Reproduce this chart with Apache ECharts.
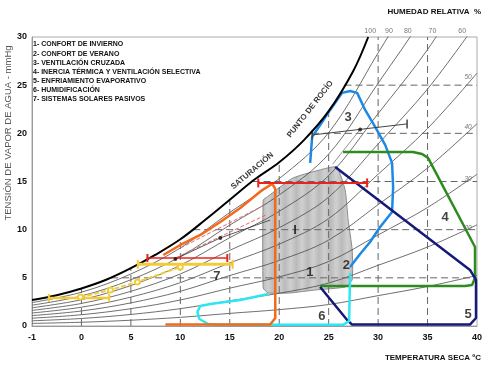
<!DOCTYPE html>
<html><head><meta charset="utf-8">
<script src="https://cdn.jsdelivr.net/npm/echarts@6/dist/echarts.min.js"></script>
<style>html,body{margin:0;padding:0;background:#fff}#c{width:487px;height:367px}</style>
</head><body><div id="c"></div>
<script>
// ---- axis ticks ----
const xTickLabels = ["-1","0","5","10","15","20","25","30","35","40"];
const yTickValues = [0,5,10,15,20,25,30];

// ---- saturation curve (T °C, vapour pressure mmHg) ----
const saturation = [[-5,2.7],[-2.5,3.2],[0,3.9],[2.5,4.8],[5,6.0],[7.5,7.4],[10,9.0],[12.5,11.0],[15,13.1],[17.5,15.2],[20,17.0],[22.5,19.3],[25,22.3],[27.5,26.5],[29,30]];

// ---- relative humidity curves ----
const rhTemps = [-5,0,5,10,15,20,25,30,35,40];
const rh10 = [0.27,0.39,0.60,0.90,1.31,1.70,2.23,3.15,4.10,5.25];
const rh20 = [0.54,0.78,1.20,1.80,2.62,3.40,4.46,6.30,8.20,10.5];
const rh30 = [0.81,1.17,1.80,2.70,3.93,5.10,6.69,9.45,12.3,15.75];
const rh40 = [1.08,1.56,2.40,3.60,5.24,6.80,8.92,12.6,16.4,21.0];
const rh50 = [1.35,1.95,3.00,4.50,6.55,8.50,11.15,15.75,20.5,26.25];
const rh60 = [1.62,2.34,3.60,5.40,7.86,10.2,13.38,18.9,24.6,31.5];
const rh70 = [1.89,2.73,4.20,6.30,9.17,11.9,15.61,22.05,28.7,36.75];
const rh80 = [2.16,3.12,4.80,7.20,10.48,13.6,17.84,25.2,32.8,42.0];
const rh90 = [2.43,3.51,5.40,8.10,11.79,15.3,20.07,28.35,36.9,47.25];
const rhTopLabels = [[29.2,30,"100"],[31.1,30,"90"],[33.0,30,"80"],[35.5,30,"70"],[38.5,30,"60"]];
const rhSideLabels = [[39.1,25.8,"50"],[39.1,20.6,"40"],[39.1,15.2,"30"],[39.1,10.2,"20"]];

// ---- dashed reference lines ----
const dashV = [[0,3.9],[5,6.0],[10,9.0],[15,13.1],[20,17.0],[25,22.3],[30,30],[35,30]];
const dashH = [[3.0,5],[11.3,10],[17.3,15],[23.3,20],[26.6,25]];

// ---- zones ----
const zone1 = [[18.38,13.08],[18.79,13.4],[21.4,15.37],[24.85,16.4],[25.86,16.5],[26.67,14.1],[26.97,11.0],[27.38,7.9],[27.38,4.8],[26.67,4.05],[23.64,3.74],[21.1,3.43],[18.9,3.43],[18.38,3.95]];
const zone3 = [[23.13,16.93],[23.33,19.63],[24.14,20.87],[25.15,22.43],[26.36,24.2],[27.17,24.4],[27.88,24.2],[28.69,22.43],[29.7,20.66],[30.71,18.8],[31.41,16.93],[31.52,14.43],[31.41,11.84],[30.2,10.28],[29.19,8.72],[28.18,7.48],[27.17,6.13]];
const zone4 = [[26.46,18.07],[33.53,18.07],[34.44,17.86],[35.05,17.45],[39.8,8.2],[39.8,4.98],[39.5,4.26],[38.79,4.15],[24.14,4.15]];
const zone5 = [[25.66,16.51],[39.29,5.82],[39.9,4.78],[39.9,0.83],[39.29,0.15],[27.37,0.15],[26.87,0.62],[24.14,4.05]];
const zone6 = [[18.89,3.32],[16.06,2.7],[13.03,2.28],[12.02,2.08],[11.72,1.45],[11.92,0.73],[12.83,0.21],[14.04,0.12],[26.46,0.12],[27.07,0.52],[27.17,5.5]];
const zone7 = [[8.28,7.37],[10.0,8.41],[12.02,9.45],[14.04,10.8],[16.06,12.25],[18.28,14.12],[19.29,14.75],[19.6,14.23],[19.6,0.83],[19.09,0.15],[8.48,0.15]];

// ---- strategy lines ----
const redUpper = [[17.88,14.85],[28.89,14.85]];
const redLower = [[6.67,7.06],[14.75,7.06]];
const redDashA = [[10,8.1],[18.6,12.6]];
const redDashB = [[9.5,7.06],[18.6,11.5]];
const blackThin = [[9.5,6.96],[14.04,9.14],[19.09,11.0]];
const blackDots = [[9.5,6.96],[14.04,9.14],[28.18,20.4]];
const zone3Bar = [[23.33,19.83],[32.93,20.98]];
const zone3Link = [[28.18,20.4],[25.4,16.8]];
const yellowUpper = [[5.7,6.4],[15.3,6.4]];
const yellowSlant = [[-0.1,3.0],[2.93,3.74],[5.66,4.57],[10.0,6.13]];
const yellowLow = [[-3.3,2.9],[2.8,2.9]];

// ---- labels ----
const zoneLabels = [[23.1,5.6,"1"],[26.8,6.3,"2"],[26.96,21.7,"3"],[36.77,11.3,"4"],[39.1,1.2,"5"],[24.3,0.95,"6"],[13.7,5.1,"7"],[21.6,9.97,"I"]];
const curveLabels = [[17.27,16.1,"SATURACIÓN",40],[23.13,22.5,"PUNTO DE ROCÍO",52]];
const legendLines = ["1- CONFORT DE INVIERNO","2- CONFORT DE VERANO","3- VENTILACIÓN CRUZADA","4- INERCIA TÉRMICA Y VENTILACIÓN SELECTIVA","5- ENFRIAMIENTO EVAPORATIVO","6- HUMIDIFICACIÓN","7- SISTEMAS SOLARES PASIVOS"];

const FONT = 'Liberation Sans, Arial, sans-serif';
const chart = echarts.init(document.getElementById('c'), null, {renderer:'canvas'});

function ln(data, color, width, extra){
  return Object.assign({type:'line', data:data, symbol:'none', silent:true, z:4,
    lineStyle:{color:color, width:width}, itemStyle:{color:color}}, extra||{});
}
const pair = (ts, vs) => ts.map((t,i)=>[t, vs[i]]);

const series = [];
// grey winter comfort polygon (soft vertical stripes)
const stripes = [];
for (let i=0;i<=16;i++){ stripes.push({offset:i/16, color: i%2 ? '#d0d0d0' : '#bababa'}); }
series.push({type:'custom', z:1, silent:true, data: zone1,
  renderItem: function(params, api){
    if (params.dataIndex !== 0) return null;
    const pts = zone1.map(p => api.coord(p));
    return {type:'polygon', shape:{points:pts, smooth:0.15},
      style:{fill:new echarts.graphic.LinearGradient(0,0,1,0,stripes), stroke:'#8c8c8c', lineWidth:1}};
  }});
// RH curves
[rh10,rh20,rh30,rh40,rh50,rh60,rh70,rh80,rh90].forEach(r=>{
  series.push(ln(pair(rhTemps,r), '#4a4a4a', 0.8, {smooth:0.35, z:2}));
});
// dashed lines
dashV.forEach(p=>series.push(ln([[p[0],0],[p[0],p[1]]], '#666', 1, {z:2, lineStyle:{color:'#666',width:1,type:[7,4]}})));
dashH.forEach(p=>series.push(ln([[p[0],p[1]],[40,p[1]]], '#666', 1, {z:2, lineStyle:{color:'#666',width:1,type:[7,4]}})));
// saturation
series.push(ln(saturation, '#000', 2, {smooth:0.35, z:5}));
// zones
series.push(ln(zone3, '#1e88e5', 2.5));
series.push(ln(zone4, '#2e8b1e', 2.5));
series.push(ln(zone5, '#15197a', 2.5));
series.push(ln(zone6, '#2ee6f2', 2.5));
series.push(ln(zone7, '#f26a1b', 2.5));
// strategy lines
series.push(ln(redDashA, '#e36a6a', 1, {lineStyle:{color:'#e36a6a',width:1,type:[4,2]}}));
series.push(ln(redDashB, '#e36a6a', 1, {lineStyle:{color:'#e36a6a',width:1,type:[4,2]}}));
series.push(ln(blackThin, '#333', 0.8));
series.push(ln(zone3Bar, '#444', 1, {symbol:'rect', symbolSize:[1.5,9]}));
series.push(ln(zone3Link, '#777', 0.8));
series.push(ln(redUpper, '#e8241c', 2, {symbol:'rect', symbolSize:[2,9], z:6}));
series.push(ln(redLower, '#e8241c', 1.5, {symbol:'rect', symbolSize:[2,8], z:6}));
series.push(ln(yellowUpper, '#f2cc38', 3, {symbol:'rect', symbolSize:[2,9], z:6}));
series.push(ln(yellowLow, '#f2cc38', 2.5, {symbol:'rect', symbolSize:[2,8], z:6}));
series.push(ln(yellowSlant, '#f2cc38', 2, {symbol:'emptyCircle', symbolSize:5, z:6, lineStyle:{color:'#f2cc38',width:2,type:[5,2]}}));
series.push({type:'scatter', data:blackDots, symbolSize:4, itemStyle:{color:'#111'}, z:7, silent:true});
// labels
series.push({type:'scatter', data:zoneLabels, symbolSize:0, z:8, silent:true,
  label:{show:true, position:'inside', formatter:p=>p.data[2], fontFamily:FONT, fontWeight:'bold', fontSize:13, color:'#111'}});
curveLabels.forEach(c=>{
  series.push({type:'scatter', data:[c], symbolSize:0, z:8, silent:true,
    label:{show:true, position:'inside', rotate:c[3], formatter:p=>p.data[2], fontFamily:FONT, fontWeight:'bold', fontSize:8, color:'#000'}});
});
series.push({type:'scatter', data:rhTopLabels, symbolSize:0, z:8, silent:true, clip:false,
  label:{show:true, position:'top', distance:2, formatter:p=>p.data[2], fontFamily:FONT, fontSize:7, color:'#555'}});
series.push({type:'scatter', data:rhSideLabels, symbolSize:0, z:8, silent:true,
  label:{show:true, position:'inside', formatter:p=>p.data[2], fontFamily:FONT, fontSize:6.5, fontStyle:'italic', color:'#555'}});

chart.setOption({
  animation:false,
  backgroundColor:'#fff',
  grid:{left:32, right:10, top:37, bottom:41, show:true, borderColor:'#aaa', borderWidth:1},
  xAxis:{type:'value', min:-5, max:40, interval:5,
    axisLine:{show:true, onZero:false, lineStyle:{color:'#999'}}, axisTick:{show:false}, splitLine:{show:false},
    axisLabel:{formatter:v=>xTickLabels[Math.round((v+5)/5)], fontFamily:FONT, fontWeight:'bold', fontSize:9, color:'#111', margin:7}},
  yAxis:{type:'value', min:0, max:30, interval:5,
    axisLine:{show:true, onZero:false, lineStyle:{color:'#999'}}, axisTick:{show:false}, splitLine:{show:false},
    axisLabel:{formatter:v=>yTickValues.includes(v)?String(v):'', fontFamily:FONT, fontWeight:'bold', fontSize:9, color:'#111', margin:5}},
  graphic:[
    {type:'text', left:33, top:40, z:10, style:{text:legendLines.join('\n'), font:'bold 7px '+FONT, lineHeight:9.1, fill:'#111'}},
    {type:'text', x:481, y:12, z:10, style:{text:'HUMEDAD RELATIVA  %', font:'bold 8px '+FONT, fill:'#111', textAlign:'right', textVerticalAlign:'middle'}},
    {type:'text', x:481, y:358, z:10, style:{text:'TEMPERATURA SECA ºC', font:'bold 8px '+FONT, fill:'#111', textAlign:'right', textVerticalAlign:'middle'}},
    {type:'text', x:8, y:133, rotation:Math.PI/2, z:10, style:{text:'TENSIÓN DE VAPOR DE AGUA - mmHg', font:'9.5px '+FONT, fill:'#555', textAlign:'center', textVerticalAlign:'middle'}}
  ],
  series:series
});
</script></body></html>
